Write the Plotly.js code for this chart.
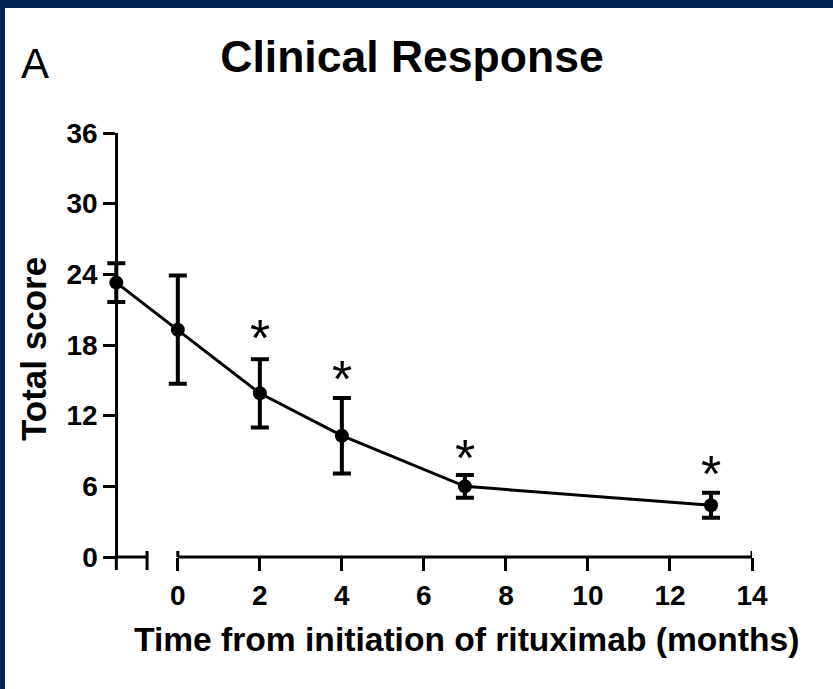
<!DOCTYPE html>
<html>
<head>
<meta charset="utf-8">
<script src="https://cdn.plot.ly/plotly-3.0.1.min.js"></script>
<style>
  html, body { margin: 0; padding: 0; background: #032450; overflow: hidden; width: 833px; height: 689px; }
  #chart { position: absolute; left: 5px; top: 8px; width: 828px; height: 681px; background: #ffffff; }
</style>
</head>
<body>
<div id="chart"></div>
<script>
// ---- data ----
const months = [-1.5, 0, 2, 4, 7, 13];          // first point = baseline (drawn on the y axis)
const totalScore = [23.3, 19.3, 13.9, 10.3, 6.0, 4.4];
const scoreError = [1.65, 4.6, 2.9, 3.2, 0.97, 1.06];
const starMonths = [2, 4, 7, 13];
const starScore = [19.2, 15.7, 9.0, 7.6];
const xTickVals = [0, 2, 4, 6, 8, 10, 12, 14];
const yTickVals = [0, 6, 12, 18, 24, 30, 36];
const axisBreak = [-1.5, -0.75];               // short baseline segment before the axis gap
const xMain = [0, 14];
const xRange = [-1.8, 14];

const FONT = 'Liberation Sans, Arial, Helvetica, sans-serif';
const plotH = 424, plotW = 648;
const yAxisPos = (axisBreak[0] - xRange[0]) / (xRange[1] - xRange[0]);

const traces = [
  {
    x: months, y: totalScore, type: 'scatter', mode: 'lines+markers',
    line: { color: '#000', width: 3 },
    marker: { color: '#000', size: 14 },
    error_y: { type: 'data', array: scoreError, visible: true, color: '#000', thickness: 4, width: 9 },
    cliponaxis: false, hoverinfo: 'none'
  }
];

const up = 6 / plotH, down = -13 / plotH;
const shapes = [
  { type: 'line', xref: 'x', yref: 'paper', x0: axisBreak[0], x1: axisBreak[1], y0: 0, y1: 0, line: { color: '#000', width: 3 } },
  { type: 'line', xref: 'x', yref: 'paper', x0: xMain[0], x1: xMain[1], y0: 0, y1: 0, line: { color: '#000', width: 3 } },
  { type: 'line', xref: 'x', yref: 'paper', x0: axisBreak[0], x1: axisBreak[0], y0: 0, y1: down, line: { color: '#000', width: 3 } },
  { type: 'line', xref: 'x', yref: 'paper', x0: axisBreak[1], x1: axisBreak[1], y0: up, y1: down, line: { color: '#000', width: 3 } },
  { type: 'line', xref: 'x', yref: 'paper', x0: xMain[0], x1: xMain[0], y0: up, y1: 0, line: { color: '#000', width: 3 } },
  { type: 'line', xref: 'x', yref: 'paper', x0: xMain[1], x1: xMain[1], y0: up, y1: 0, line: { color: '#000', width: 3 } }
];

const starNotes = starMonths.map((m, i) => ({
  text: '*', xref: 'x', yref: 'y', x: m, y: starScore[i], yshift: -7,
  xanchor: 'center', yanchor: 'middle', showarrow: false,
  font: { family: FONT, size: 52, color: '#000' }
}));

const layout = {
  width: 828, height: 681,
  margin: { l: 99, r: 81, t: 125, b: 132 },
  paper_bgcolor: '#ffffff', plot_bgcolor: '#ffffff',
  showlegend: false,
  title: {
    text: 'Clinical Response',
    font: { family: FONT, size: 44.5, color: '#000', weight: 'bold' },
    x: 407 / 828, xanchor: 'center', xref: 'container',
    y: 1 - 48 / 681, yanchor: 'middle', yref: 'container'
  },
  xaxis: {
    range: xRange, showgrid: false, zeroline: false, showline: false,
    tickvals: xTickVals, ticktext: xTickVals.map(String),
    ticks: 'outside', ticklen: 13, tickwidth: 3, tickcolor: '#000',
    tickfont: { family: FONT, size: 28, color: '#000', weight: 'bold' },
    fixedrange: true
  },
  yaxis: {
    range: [0, 36], showgrid: false, zeroline: false,
    anchor: 'free', position: yAxisPos,
    showline: true, linewidth: 3, linecolor: '#000',
    tickvals: yTickVals, ticktext: yTickVals.map(String),
    ticks: 'outside', ticklen: 12, tickwidth: 3, tickcolor: '#000',
    tickfont: { family: FONT, size: 28, color: '#000', weight: 'bold' },
    fixedrange: true
  },
  shapes: shapes,
  annotations: starNotes.concat([
    { text: 'A', xref: 'paper', yref: 'paper', x: (30 - 99) / plotW, y: (549 - 55) / plotH,
      xanchor: 'center', yanchor: 'middle', showarrow: false,
      font: { family: FONT, size: 42, color: '#000' } },
    { text: 'Time from initiation of rituximab (months)', xref: 'paper', yref: 'paper',
      x: (461 - 99) / plotW, y: (549 - 631) / plotH, xanchor: 'center', yanchor: 'middle', showarrow: false,
      font: { family: FONT, size: 33.6, color: '#000', weight: 'bold' } },
    { text: 'Total score', xref: 'paper', yref: 'paper', textangle: -90,
      x: (28 - 99) / plotW, y: (549 - 341) / plotH, xanchor: 'center', yanchor: 'middle', showarrow: false,
      font: { family: FONT, size: 35, color: '#000', weight: 'bold' } }
  ])
};

Plotly.newPlot('chart', traces, layout, { staticPlot: true, displayModeBar: false });
</script>
</body>
</html>
